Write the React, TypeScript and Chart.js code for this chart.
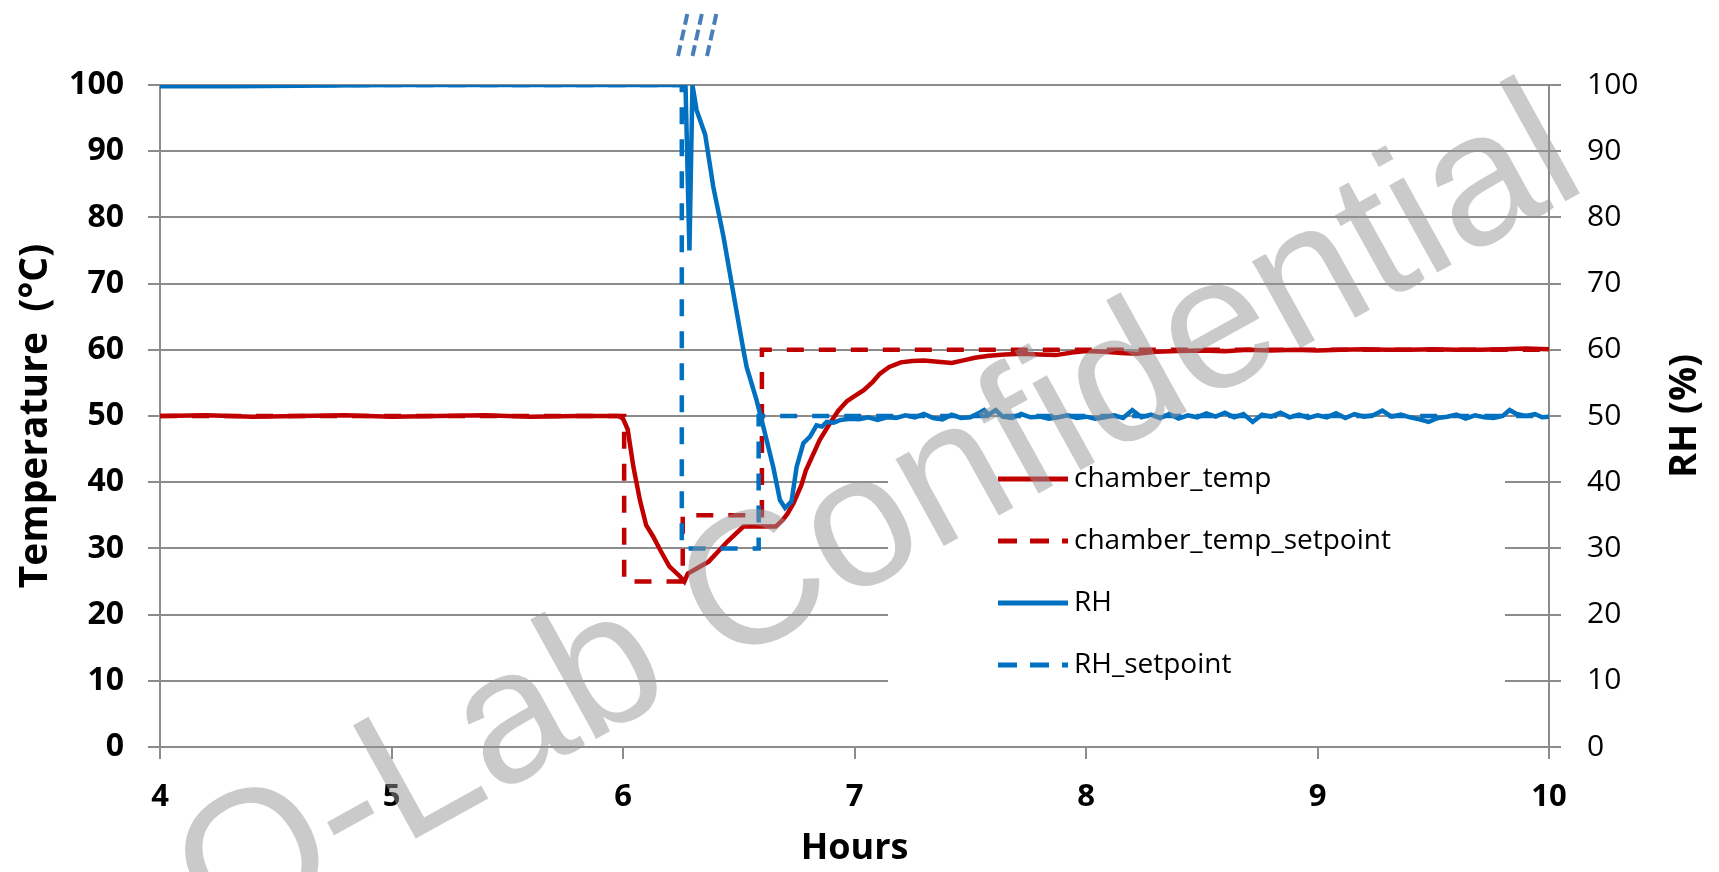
import React, { useEffect, useRef } from "react";
import { Chart, registerables } from "chart.js";

Chart.register(...registerables);

// ---------------- DATA ----------------
const tempHours = [
  4.0, 4.2, 4.4, 4.6, 4.8, 5.0, 5.2, 5.4, 5.6, 5.8, 5.98, 6.0, 6.02, 6.045, 6.073, 6.1, 6.13, 6.16, 6.2, 6.245,
  6.265, 6.28, 6.32, 6.37, 6.41, 6.45, 6.52, 6.6, 6.66, 6.69, 6.71, 6.736, 6.77, 6.79, 6.85, 6.894, 6.93, 6.966,
  7.0, 7.04, 7.08, 7.11, 7.15, 7.2, 7.25, 7.3, 7.36, 7.42, 7.47, 7.52, 7.58, 7.65, 7.72, 7.8, 7.87, 7.94, 8.0,
  8.08, 8.15, 8.22, 8.3, 8.4, 8.5, 8.6, 8.7, 8.8, 8.9, 9.0, 9.1, 9.2, 9.3, 9.4, 9.5, 9.6, 9.7, 9.8, 9.9, 10.0,
];
const tempValues = [
  50.0, 50.1, 49.9, 50.0, 50.1, 49.9, 50.0, 50.1, 49.9, 50.0, 50.0, 49.6, 48.0, 42.3, 37.3, 33.5, 31.8, 29.8, 27.3, 25.8,
  25.0, 26.2, 27.0, 28.0, 29.5, 31.0, 33.3, 33.3, 33.3, 34.3, 35.2, 36.8, 39.5, 41.8, 46.4, 48.9, 50.8, 52.2,
  53.0, 53.9, 55.2, 56.4, 57.4, 58.1, 58.3, 58.4, 58.2, 58.0, 58.4, 58.8, 59.1, 59.3, 59.4, 59.3, 59.2, 59.6, 59.8,
  59.7, 59.5, 59.4, 59.7, 59.8, 59.9, 59.8, 60.0, 59.9, 60.0, 59.9, 60.0, 60.1, 60.0, 60.0, 60.1, 60.0, 60.0, 60.1, 60.2, 60.1,
];

const tempSetHours = [4.0, 6.005, 6.005, 6.258, 6.258, 6.6, 6.6, 10.0];
const tempSetValues = [50, 50, 25, 25, 35, 35, 60, 60];

const rhHours = [
  4.0, 4.3, 4.6, 5.0, 5.5, 6.0, 6.2, 6.27, 6.287, 6.3, 6.318, 6.355, 6.39, 6.434, 6.477, 6.52, 6.534, 6.577, 6.606,
  6.649, 6.678, 6.7, 6.728, 6.75, 6.779, 6.808, 6.836, 6.86, 6.88, 6.91, 6.94,
  6.98, 7.02, 7.06, 7.1, 7.14, 7.18, 7.22, 7.26, 7.3, 7.34, 7.38, 7.42, 7.46, 7.5, 7.54, 7.56, 7.58, 7.61, 7.64,
  7.68, 7.72, 7.76, 7.8, 7.84, 7.88, 7.92, 7.96, 8.0, 8.04, 8.08, 8.12, 8.16, 8.2, 8.24, 8.28, 8.32, 8.36, 8.4,
  8.44, 8.48, 8.52, 8.56, 8.6, 8.64, 8.68, 8.72, 8.76, 8.8, 8.84, 8.88, 8.92, 8.96, 9.0, 9.04, 9.08, 9.12, 9.16,
  9.2, 9.24, 9.28, 9.32, 9.36, 9.4, 9.44, 9.48, 9.52, 9.56, 9.6, 9.64, 9.68, 9.72, 9.76, 9.8, 9.83, 9.86, 9.9,
  9.94, 9.97, 10.0,
];
const rhValues = [
  99.8, 99.8, 99.9, 100, 100, 100, 100, 100, 75, 100, 96.2, 92.5, 84.6, 77.1, 68.5, 60.0, 57.4, 52.4, 48.4,
  42.3, 37.3, 36.1, 37.1, 42.3, 45.9, 46.9, 48.6, 48.4, 49.1, 49.0, 49.4,
  49.6, 49.5, 49.8, 49.4, 49.8, 49.7, 50.1, 49.8, 50.3, 49.7, 49.5, 50.2, 49.7, 49.8, 50.5, 50.9, 50.2, 50.9, 49.9,
  49.7, 50.3, 49.8, 49.9, 49.6, 49.8, 50.1, 49.7, 49.9, 49.6, 49.8, 50.1, 49.7, 50.9, 49.8, 50.2, 49.7, 50.3, 49.6,
  50.1, 49.8, 50.4, 49.9, 50.5, 49.8, 50.3, 49.1, 50.2, 49.9, 50.5, 49.8, 50.2, 49.7, 50.1, 49.8, 50.4, 49.7, 50.3,
  49.9, 50.1, 50.8, 49.9, 50.2, 49.8, 49.5, 49.1, 49.7, 49.9, 50.2, 49.6, 50.1, 49.8, 49.7, 50.0, 50.9, 50.3, 50.0,
  50.3, 49.8, 49.9,
];

const rhSetHours = [4.0, 6.254, 6.254, 6.586, 6.586, 10.0];
const rhSetValues = [100, 100, 30, 30, 50, 50];

const seriesNames = ["chamber_temp", "chamber_temp_setpoint", "RH", "RH_setpoint"];
const xMin = 4;
const xMax = 10;
const yMin = 0;
const yMax = 100;
const BREAK_HOUR = 6.36;

// ---------------- STYLE ----------------
const RED = "#C00000";
const BLUE = "#0070C0";
const GRID = "#8c8c8c";
const FONT = "'Open Sans', 'Noto Sans', sans-serif";
const DASH = [17, 15];

function pts(xs: number[], ys: number[]) {
  return xs.map((x, i) => ({ x, y: ys[i] }));
}

export default function App() {
  const ref = useRef<HTMLCanvasElement>(null);

  useEffect(() => {
    const canvas = ref.current!;

    const legendBox = {
      id: "legendBox",
      beforeDatasetsDraw(chart: any) {
        const { ctx, chartArea } = chart;
        ctx.save();
        ctx.fillStyle = "#ffffff";
        ctx.fillRect(chartArea.left + 728, chartArea.top + 363, 617, 249);
        ctx.restore();
      },
      afterDatasetsDraw(chart: any) {
        const { ctx, chartArea } = chart;
        const x0 = chartArea.left + 838;
        const y0 = chartArea.top + 394;
        const gap = 62;
        const colors = [RED, RED, BLUE, BLUE];
        const dashed = [false, true, false, true];
        ctx.save();
        seriesNames.forEach((name, i) => {
          const y = y0 + i * gap;
          ctx.strokeStyle = colors[i];
          ctx.lineWidth = 5;
          ctx.lineCap = "butt";
          ctx.setLineDash(dashed[i] ? [19, 13] : []);
          ctx.beginPath();
          ctx.moveTo(x0, y);
          ctx.lineTo(x0 + 70, y);
          ctx.stroke();
          ctx.setLineDash([]);
          ctx.fillStyle = "#000";
          ctx.font = `28px ${FONT}`;
          ctx.textAlign = "left";
          ctx.textBaseline = "middle";
          ctx.fillText(name, x0 + 76, y);
        });
        ctx.restore();
      },
    };

    const extras = {
      id: "extras",
      afterDraw(chart: any) {
        const { ctx, chartArea, scales } = chart;
        ctx.save();
        // right axis title, reading bottom-to-top
        ctx.translate(chartArea.right + 136, (chartArea.top + chartArea.bottom) / 2);
        ctx.rotate(-Math.PI / 2);
        ctx.fillStyle = "#000";
        ctx.font = `bold 38px ${FONT}`;
        ctx.textAlign = "center";
        ctx.textBaseline = "middle";
        ctx.fillText("RH (%)", 0, 0);
        ctx.restore();

        // axis break marks
        const bx = scales.x.getPixelForValue(BREAK_HOUR);
        ctx.save();
        ctx.strokeStyle = "#4a7ebb";
        ctx.lineWidth = 4;
        ctx.setLineDash([11, 5]);
        for (let k = 0; k < 3; k++) {
          const xo = bx - 29 + k * 14.5;
          ctx.beginPath();
          ctx.moveTo(xo + 10, chartArea.top - 71);
          ctx.lineTo(xo, chartArea.top - 26);
          ctx.stroke();
        }
        ctx.restore();

        // watermark
        ctx.save();
        ctx.translate(880, 522);
        ctx.rotate((-29 * Math.PI) / 180);
        ctx.fillStyle = "rgba(150,150,150,0.5)";
        ctx.font = `188px 'Liberation Sans', Arial, sans-serif`;
        ctx.textAlign = "center";
        ctx.textBaseline = "middle";
        ctx.fillText("Q-Lab Confidential", 0, 0);
        ctx.restore();
      },
    };

    const chart = new Chart(canvas, {
      type: "scatter",
      data: {
        datasets: [
          {
            label: seriesNames[0],
            data: pts(tempHours, tempValues),
            borderColor: RED,
            borderWidth: 4.5,
            showLine: true,
            pointRadius: 0,
            yAxisID: "y",
            order: 4,
          },
          {
            label: seriesNames[1],
            data: pts(tempSetHours, tempSetValues),
            borderColor: RED,
            borderWidth: 4.5,
            borderDash: DASH,
            showLine: true,
            pointRadius: 0,
            yAxisID: "y",
            order: 3,
          },
          {
            label: seriesNames[2],
            data: pts(rhHours, rhValues),
            borderColor: BLUE,
            borderWidth: 4.5,
            showLine: true,
            pointRadius: 0,
            yAxisID: "y1",
            order: 2,
          },
          {
            label: seriesNames[3],
            data: pts(rhSetHours, rhSetValues),
            borderColor: BLUE,
            borderWidth: 4.5,
            borderDash: DASH,
            showLine: true,
            pointRadius: 0,
            yAxisID: "y1",
            order: 1,
          },
        ],
      },
      options: {
        animation: false,
        responsive: false,
        maintainAspectRatio: false,
        layout: { padding: { top: 85, left: 0, right: 0, bottom: 0 } },
        plugins: {
          legend: { display: false },
          tooltip: { enabled: false },
        },
        scales: {
          x: {
            type: "linear",
            min: xMin,
            max: xMax,
            ticks: {
              stepSize: 1,
              color: "#000",
              font: { family: FONT, size: 31, weight: "bold" },
              padding: 20,
            },
            grid: {
              drawOnChartArea: false,
              drawTicks: true,
              tickLength: 12,
              color: GRID,
              lineWidth: 2,
            },
            border: { display: true, color: GRID, width: 2 },
            title: {
              display: true,
              text: "Hours",
              color: "#000",
              font: { family: FONT, size: 36, weight: "bold" },
              padding: { top: 0, bottom: 2 },
            },
            afterFit(s: any) {
              s.height = 125;
            },
          },
          y: {
            type: "linear",
            position: "left",
            min: yMin,
            max: yMax,
            ticks: {
              stepSize: 10,
              color: "#000",
              font: { family: FONT, size: 32, weight: "bold" },
              padding: 24,
            },
            grid: {
              color: GRID,
              lineWidth: 2,
              tickLength: 12,
              drawTicks: true,
            },
            border: { display: true, color: GRID, width: 2 },
            title: {
              display: true,
              text: "Temperature  (°C)",
              color: "#000",
              font: { family: FONT, size: 39, weight: "bold" },
              padding: { top: 12, bottom: 0 },
            },
            afterFit(s: any) {
              s.width = 160;
            },
          },
          y1: {
            type: "linear",
            position: "right",
            min: yMin,
            max: yMax,
            ticks: {
              stepSize: 10,
              color: "#000",
              font: { family: FONT, size: 30 },
              padding: 26,
            },
            grid: {
              drawOnChartArea: false,
              color: GRID,
              lineWidth: 2,
              tickLength: 12,
              drawTicks: true,
            },
            border: { display: true, color: GRID, width: 2 },
            afterFit(s: any) {
              s.width = 170;
            },
          },
        },
      },
      plugins: [legendBox, extras],
    });

    return () => chart.destroy();
  }, []);

  return (
    <div style={{ position: "fixed", left: 0, top: 0, width: 1719, height: 872, background: "#fff" }}>
      <canvas ref={ref} width={1719} height={872} style={{ width: 1719, height: 872, display: "block" }} />
    </div>
  );
}
